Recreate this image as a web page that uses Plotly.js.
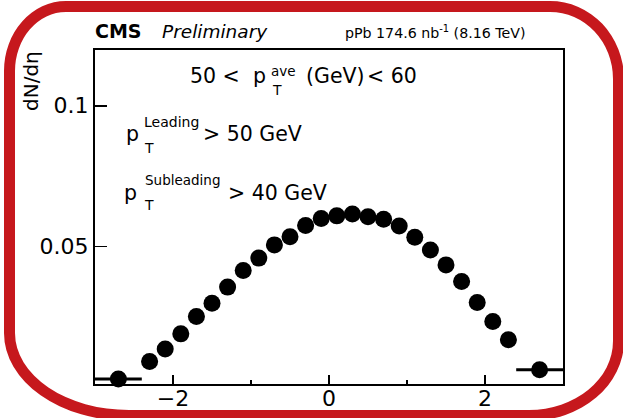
<!DOCTYPE html>
<html>
<head>
<meta charset="utf-8">
<script src="https://cdn.plot.ly/plotly-3.0.1.min.js"></script>
<style>
  html, body { margin: 0; padding: 0; background: #fff; }
  #wrap { position: relative; width: 623px; height: 418px; overflow: hidden; }
  #chart { position: absolute; left: 0; top: 0; width: 623px; height: 418px; }
  #frame {
    position: absolute; left: 4px; top: 1px; width: 620px; height: 420px;
    box-sizing: border-box; border: 11px solid #c6181d;
    border-radius: 62px 74px 95px 125px / 70px 78px 80px 88px;
    pointer-events: none;
  }
</style>
</head>
<body>
<div id="wrap">
  <div id="chart"></div>
  <div id="frame"></div>
</div>
<script>
// ---- data ----
var eta = [-2.7, -2.3, -2.1, -1.9, -1.7, -1.5, -1.3, -1.1, -0.9, -0.7, -0.5, -0.3, -0.1,
            0.1, 0.3, 0.5, 0.7, 0.9, 1.1, 1.3, 1.5, 1.7, 1.9, 2.1, 2.3, 2.7];
var dNdeta = [0.0030, 0.0092, 0.0136, 0.0190, 0.0252, 0.0299, 0.0356, 0.0415, 0.0459, 0.0506,
              0.0535, 0.0575, 0.0600, 0.0609, 0.0616, 0.0606, 0.0597, 0.0573, 0.0533, 0.0488,
              0.0435, 0.0376, 0.0301, 0.0234, 0.0169, 0.0063];
var binHalfWidth = [0.3, 0.1, 0.1, 0.1, 0.1, 0.1, 0.1, 0.1, 0.1, 0.1, 0.1, 0.1, 0.1,
                    0.1, 0.1, 0.1, 0.1, 0.1, 0.1, 0.1, 0.1, 0.1, 0.1, 0.1, 0.1, 0.3];
var xTickVals = [-2, 0, 2];
var xTickText = ['\u22122', '0', '2'];
var xMinorVals = [-1, 1];
var yTickVals = [0.05, 0.1];
var yTickText = ['0.05', '0.1'];
var xRange = [-3, 3];
var yRange = [0.0012, 0.1198];

// ---- geometry helpers (pixel -> paper) ----
var W = 623, H = 418, mL = 95, mR = 60, mT = 50, mB = 34;
var pw = W - mL - mR, ph = H - mT - mB;
function px(x) { return (x - mL) / pw; }
function py(y) { return (H - mB - y) / ph; }

var FONT = 'DejaVu Sans, Liberation Sans, Arial, sans-serif';
function ann(text, x, y, size, opts) {
  var a = {
    text: text, xref: 'paper', yref: 'paper', x: px(x), y: py(y),
    xanchor: 'left', yanchor: 'middle', showarrow: false, borderpad: 0,
    font: { family: FONT, size: size, color: '#000' }
  };
  if (opts) { for (var k in opts) { if (k === 'font') { for (var f in opts.font) a.font[f] = opts.font[f]; } else a[k] = opts[k]; } }
  return a;
}

var M = 20.5, S = 14;
var annotations = [
  ann('CMS', 94, 31.5, 19, { font: { weight: 'bold' } }),
  ann('Preliminary', 161, 31.5, 18.5, { font: { style: 'italic' } }),
  ann('pPb 174.6 nb<sup>-1</sup> (8.16 TeV)', 344, 32, 14.2),
  ann('dN/d\u03b7', 31, 81, 20, { textangle: -90, xanchor: 'center' }),
  // 50 < pT^ave (GeV) < 60
  ann('50 &lt;', 189, 75.8, M),
  ann('p', 252, 75.8, M),
  ann('ave', 270, 71, 13.5),
  ann('T', 271, 90, S),
  ann('(GeV)', 305, 75.8, M),
  ann('&lt; 60', 366, 75.8, M),
  // pT^Leading > 50 GeV
  ann('p', 125, 134, M),
  ann('Leading', 143, 121.5, S),
  ann('T', 143, 147.5, S),
  ann('&gt; 50 GeV', 202, 134, M),
  // pT^Subleading > 40 GeV
  ann('p', 123, 193, M),
  ann('Subleading', 144, 180, 13.5),
  ann('T', 143, 205, S),
  ann('&gt; 40 GeV', 227, 193, M)
];

var trace = {
  x: eta, y: dNdeta, type: 'scatter', mode: 'markers',
  marker: { color: '#000', size: 17 },
  error_x: { type: 'data', array: binHalfWidth, visible: true, color: '#000', thickness: 3, width: 0 },
  cliponaxis: false, hoverinfo: 'skip'
};

var axisCommon = {
  showline: true, linecolor: '#000', linewidth: 2, mirror: true,
  showgrid: false, zeroline: false, ticks: 'inside', tickcolor: '#000', tickwidth: 1.5,
  tickfont: { family: FONT, size: 22, color: '#000' }, tickmode: 'array'
};

var layout = {
  width: W, height: H,
  margin: { l: mL, r: mR, t: mT, b: mB, pad: 0 },
  paper_bgcolor: '#fff', plot_bgcolor: '#fff',
  showlegend: false,
  xaxis: Object.assign({}, axisCommon, {
    range: xRange, tickvals: xTickVals, ticktext: xTickText, ticklen: 9,
    ticklabelstandoff: -6,
    minor: { tickmode: 'array', tickvals: xMinorVals, ticks: 'inside', ticklen: 4.5, tickwidth: 1.5, tickcolor: '#000' }
  }),
  yaxis: Object.assign({}, axisCommon, {
    range: yRange, tickvals: yTickVals, ticktext: yTickText, ticklen: 12
  }),
  annotations: annotations
};

Plotly.newPlot('chart', [trace], layout, { staticPlot: true, displayModeBar: false });
</script>
</body>
</html>
